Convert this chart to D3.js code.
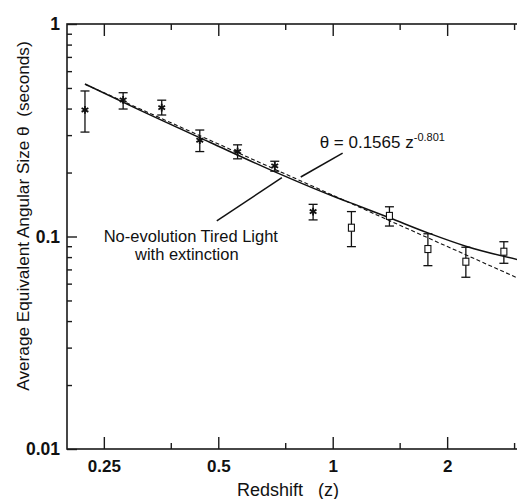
<!DOCTYPE html>
<html lang="en">
<head>
<meta charset="UTF-8">
<title>angular size vs redshift</title>
<script src="https://cdn.jsdelivr.net/npm/d3@7"></script>
<style>
  body { margin: 0; background: #fff; }
  text { font-family: "Liberation Sans", Arial, Helvetica, sans-serif; fill: #111; }
</style>
</head>
<body>
<script>
let width = 517;
let height = 499;

// measured points (asterisks) with error bars
let starZ  = [0.223, 0.281, 0.355, 0.447, 0.562, 0.704, 0.888];
let starT  = [0.394, 0.439, 0.404, 0.284, 0.251, 0.215, 0.131];
let starHi = [0.484, 0.475, 0.438, 0.317, 0.270, 0.226, 0.1417];
let starLo = [0.310, 0.398, 0.373, 0.251, 0.232, 0.203, 0.1197];

// measured points (open squares)
let sqZ  = [1.12, 1.41, 1.78, 2.24, 2.82];
let sqT  = [0.110, 0.125, 0.0873, 0.0761, 0.0848];
let sqHi = [0.131, 0.138, 0.103, 0.089, 0.0945];
let sqLo = [0.0896, 0.112, 0.0729, 0.0643, 0.0748];

// no-evolution tired light model (solid)
let modelZ = [0.223, 0.3, 0.475, 0.7, 1.0, 1.18, 1.41, 1.78, 2.25, 3.1];
let modelT = [0.522, 0.405, 0.2775, 0.2025, 0.155, 0.1385, 0.1225, 0.104, 0.0898, 0.0775];

// power-law fit (dashed), end points
let fitZ = [0.223, 3.1];
let fitT = [0.5206, 0.0632];

let xMajor = [0.25, 0.5, 1, 2];
let xMinor = [0.375, 0.75, 1.5, 3];
let yMajor = [1, 0.1, 0.01];
let yMinor = [0.02, 0.03, 0.04, 0.05, 0.06, 0.07, 0.08, 0.09,
              0.2, 0.3, 0.4, 0.5, 0.6, 0.7, 0.8, 0.9];

let x = d3.scaleLog().domain([0.2, 3.1]).range([67, 519.5]);
let y = d3.scaleLog().domain([0.01, 1]).range([449, 24]);

let svg = d3.select('body')
  .append('svg')
  .attr('width', width)
  .attr('height', height);

// frame
svg.append('rect')
  .attr('x', x(0.2))
  .attr('y', y(1))
  .attr('width', x(3.1) - x(0.2))
  .attr('height', y(0.01) - y(1))
  .attr('fill', 'none')
  .attr('stroke', '#1a1a1a')
  .attr('stroke-width', 1.6);

function ticks(g) {
  g.select('.domain').remove();
  g.selectAll('.tick line').attr('stroke', '#1a1a1a').attr('stroke-width', 1.4);
}

// x ticks, bottom and top (inward)
svg.append('g')
  .attr('transform', 'translate(0,' + y(0.01) + ')')
  .call(d3.axisBottom(x).tickValues(xMajor).tickSize(-12).tickPadding(18)
    .tickFormat(d3.format('')))
  .call(ticks)
  .selectAll('text')
  .attr('font-size', 17)
  .attr('font-weight', 'bold')
  .attr('dy', '0.3em');

svg.append('g')
  .attr('transform', 'translate(0,' + y(0.01) + ')')
  .call(d3.axisBottom(x).tickValues(xMinor).tickSize(-6).tickFormat(''))
  .call(ticks);

svg.append('g')
  .attr('transform', 'translate(0,' + y(1) + ')')
  .call(d3.axisTop(x).tickValues(xMajor).tickSize(-12).tickFormat(''))
  .call(ticks);

svg.append('g')
  .attr('transform', 'translate(0,' + y(1) + ')')
  .call(d3.axisTop(x).tickValues(xMinor).tickSize(-6).tickFormat(''))
  .call(ticks);

// y ticks (inward)
svg.append('g')
  .attr('transform', 'translate(' + x(0.2) + ',0)')
  .call(d3.axisLeft(y).tickValues(yMajor).tickSize(-10).tickPadding(7)
    .tickFormat(d3.format('')))
  .call(ticks)
  .selectAll('text')
  .attr('font-size', 17.5)
  .attr('font-weight', 'bold');

svg.append('g')
  .attr('transform', 'translate(' + x(0.2) + ',0)')
  .call(d3.axisLeft(y).tickValues(yMinor).tickSize(-5).tickFormat(''))
  .call(ticks);

// axis titles
svg.append('text')
  .attr('x', 288)
  .attr('y', 496)
  .attr('text-anchor', 'middle')
  .attr('font-size', 18)
  .style('white-space', 'pre')
  .text('Redshift   (z)');

svg.append('text')
  .attr('transform', 'translate(29,' + 216 + ') rotate(-90)')
  .attr('text-anchor', 'middle')
  .attr('font-size', 17.2)
  .style('white-space', 'pre')
  .text('Average Equivalent Angular Size \u03b8  (seconds)');

// curves
let line = d3.line()
  .x(d => x(d[0]))
  .y(d => y(d[1]));

let plot = svg.append('g');

plot.append('path')
  .datum(d3.zip(modelZ, modelT))
  .attr('d', line.curve(d3.curveMonotoneX))
  .attr('fill', 'none')
  .attr('stroke', '#111')
  .attr('stroke-width', 1.5);

plot.append('path')
  .datum(d3.zip(fitZ, fitT))
  .attr('d', d3.line().x(d => x(d[0])).y(d => y(d[1])))
  .attr('fill', 'none')
  .attr('stroke', '#111')
  .attr('stroke-width', 1.1)
  .attr('stroke-dasharray', '4,2.5');

// error bars
function errorBars(zs, lo, hi) {
  let g = plot.append('g').attr('stroke', '#111').attr('stroke-width', 1.3);
  zs.forEach((z, i) => {
    let cx = x(z);
    g.append('line').attr('x1', cx).attr('x2', cx).attr('y1', y(lo[i])).attr('y2', y(hi[i]));
    g.append('line').attr('x1', cx - 4.5).attr('x2', cx + 4.5).attr('y1', y(lo[i])).attr('y2', y(lo[i]));
    g.append('line').attr('x1', cx - 4.5).attr('x2', cx + 4.5).attr('y1', y(hi[i])).attr('y2', y(hi[i]));
  });
}
errorBars(starZ, starLo, starHi);
errorBars(sqZ, sqLo, sqHi);

plot.selectAll('path.star')
  .data(d3.zip(starZ, starT))
  .join('path')
  .attr('class', 'star')
  .attr('transform', d => 'translate(' + x(d[0]) + ',' + y(d[1]) + ')')
  .attr('d', d3.symbol(d3.symbolAsterisk, 42))
  .attr('fill', 'none')
  .attr('stroke', '#111')
  .attr('stroke-width', 1.8);

plot.selectAll('rect.sq')
  .data(d3.zip(sqZ, sqT))
  .join('rect')
  .attr('class', 'sq')
  .attr('x', d => x(d[0]) - 3)
  .attr('y', d => y(d[1]) - 3.5)
  .attr('width', 6)
  .attr('height', 7)
  .attr('fill', '#fff')
  .attr('stroke', '#111')
  .attr('stroke-width', 1.1);

// annotations
let fitLeader = [[0.824, 0.1906], [1.062, 0.247]];
let modelLeader = [[0.4955, 0.1183], [0.735, 0.1895]];

[fitLeader, modelLeader].forEach(l => {
  svg.append('line')
    .attr('x1', x(l[0][0])).attr('y1', y(l[0][1]))
    .attr('x2', x(l[1][0])).attr('y2', y(l[1][1]))
    .attr('stroke', '#111')
    .attr('stroke-width', 1.5);
});

let fitLabel = svg.append('text')
  .attr('x', x(0.924))
  .attr('y', y(0.261))
  .attr('font-size', 17);
fitLabel.append('tspan').text('\u03b8 = 0.1565 z');
fitLabel.append('tspan').attr('dy', -7).attr('font-size', 11).text('-0.801');

svg.append('text')
  .attr('x', x(0.4234))
  .attr('y', y(0.0932) - 1)
  .attr('text-anchor', 'middle')
  .attr('font-size', 16.5)
  .text('No-evolution Tired Light');

svg.append('text')
  .attr('x', x(0.4234) - 4)
  .attr('y', y(0.0932) + 17)
  .attr('text-anchor', 'middle')
  .attr('font-size', 16.5)
  .text('with extinction');
</script>
</body>
</html>
